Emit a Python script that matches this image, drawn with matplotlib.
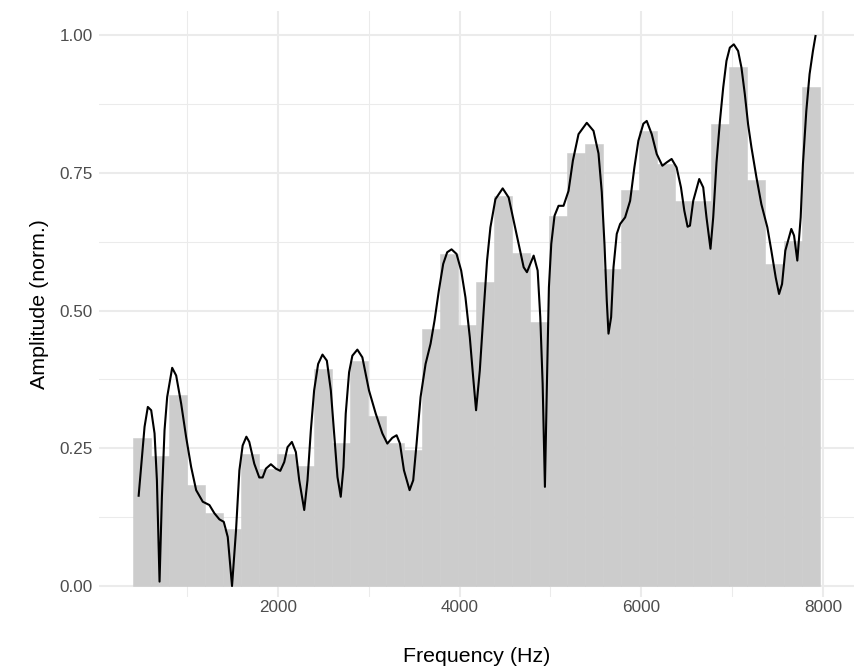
import numpy as np
import matplotlib
matplotlib.use("Agg")
import matplotlib.pyplot as plt
from matplotlib.ticker import FixedLocator, FuncFormatter

plt.rcParams['font.family'] = ['Liberation Sans', 'DejaVu Sans']

# ---- data ----
bin_start = 402.0
bin_width = 199.0
bar_amp = [0.269, 0.236, 0.346, 0.184, 0.132, 0.104, 0.239, 0.212, 0.240, 0.217,
           0.394, 0.260, 0.409, 0.308, 0.260, 0.246, 0.467, 0.603, 0.473, 0.551,
           0.707, 0.605, 0.479, 0.671, 0.786, 0.802, 0.576, 0.719, 0.826, 0.765,
           0.698, 0.698, 0.838, 0.941, 0.736, 0.585, 0.626, 0.906]
bar_freq = bin_start + bin_width * (np.arange(len(bar_amp)) + 0.5)

curve_freq = [465, 531, 567, 604, 641, 667, 696, 722, 751, 780, 835, 879, 934, 989,
              1044, 1099, 1172, 1245, 1300, 1355, 1403, 1447, 1494, 1538, 1575, 1611,
              1652, 1684, 1739, 1794, 1831, 1867, 1922, 1977, 2025, 2069, 2105, 2153,
              2197, 2234, 2289, 2325, 2362, 2398, 2442, 2490, 2538, 2582, 2618, 2655,
              2691, 2721, 2746, 2783, 2819, 2874, 2929, 3002, 3076, 3149, 3204, 3259,
              3306, 3343, 3387, 3449, 3489, 3526, 3570, 3625, 3680, 3724, 3771, 3819,
              3863, 3911, 3966, 4017, 4064, 4112, 4149, 4181, 4222, 4266, 4302, 4339,
              4394, 4474, 4540, 4595, 4650, 4705, 4741, 4815, 4859, 4888, 4914, 4939,
              4961, 4983, 5009, 5045, 5089, 5144, 5199, 5247, 5309, 5400, 5474, 5529,
              5565, 5595, 5620, 5639, 5668, 5694, 5730, 5767, 5822, 5877, 5924, 5968,
              6023, 6060, 6115, 6170, 6232, 6279, 6334, 6389, 6437, 6474, 6510, 6536,
              6572, 6638, 6682, 6718, 6762, 6792, 6828, 6866, 6902, 6938, 6975, 7019,
              7066, 7103, 7140, 7176, 7213, 7268, 7322, 7388, 7432, 7480, 7517, 7550,
              7586, 7652, 7682, 7718, 7755, 7780, 7817, 7853, 7890, 7920]
curve_amp = [0.162, 0.289, 0.325, 0.319, 0.277, 0.192, 0.008, 0.162, 0.283, 0.343, 0.396,
             0.382, 0.331, 0.270, 0.216, 0.174, 0.153, 0.147, 0.132, 0.121, 0.1165, 0.089,
             0.000, 0.101, 0.210, 0.255, 0.271, 0.2615, 0.222, 0.197, 0.197, 0.213, 0.221,
             0.213, 0.209, 0.225, 0.252, 0.2615, 0.243, 0.192, 0.138, 0.192, 0.283, 0.355,
             0.403, 0.420, 0.409, 0.355, 0.277, 0.198, 0.162, 0.216, 0.313, 0.388, 0.418,
             0.429, 0.415, 0.355, 0.313, 0.277, 0.2585, 0.269, 0.2736, 0.2585, 0.210, 0.174,
             0.192, 0.2585, 0.343, 0.403, 0.4397, 0.482, 0.536, 0.5845, 0.6057, 0.611,
             0.6026, 0.5725, 0.524, 0.4516, 0.379, 0.319, 0.391, 0.503, 0.5906, 0.651,
             0.702, 0.7216, 0.705, 0.663, 0.621, 0.5785, 0.5695, 0.5996, 0.5725, 0.488,
             0.367, 0.180, 0.367, 0.542, 0.621, 0.672, 0.690, 0.690, 0.717, 0.772, 0.820,
             0.8406, 0.826, 0.785, 0.715, 0.620, 0.518, 0.458, 0.488, 0.5785, 0.639, 0.657,
             0.669, 0.699, 0.7596, 0.808, 0.839, 0.844, 0.820, 0.784, 0.7627, 0.7687, 0.775,
             0.7596, 0.7234, 0.681, 0.652, 0.654, 0.699, 0.7386, 0.7234, 0.669, 0.612, 0.669,
             0.768, 0.844, 0.9046, 0.953, 0.977, 0.983, 0.971, 0.9408, 0.8926, 0.838, 0.796,
             0.7415, 0.693, 0.651, 0.6087, 0.560, 0.530, 0.548, 0.6087, 0.648, 0.636, 0.5906,
             0.669, 0.766, 0.862, 0.929, 0.971, 1.000]

x_major = [2000, 4000, 6000, 8000]
x_minor = [1000, 3000, 5000, 7000]
y_major = [0.00, 0.25, 0.50, 0.75, 1.00]
y_minor = [0.125, 0.375, 0.625, 0.875]

# ---- figure ----
W, H = 861, 670
fig = plt.figure(figsize=(W / 100, H / 100), dpi=100)
left_px, right_px, top_px, bottom_px = 98.5, 854, 11, 597
ax = fig.add_axes([left_px / W, 1 - bottom_px / H,
                   (right_px - left_px) / W, (bottom_px - top_px) / H])

ax.bar(bar_freq, bar_amp, width=bin_width, color='#CCCCCC', edgecolor='#CCCCCC',
       linewidth=0.4, zorder=2)
ax.plot(curve_freq, curve_amp, color='black', linewidth=1.5, zorder=3,
        solid_joinstyle='round', solid_capstyle='butt')

# limits with ggplot-like expansion
xmin, xmax = bar_freq[0] - bin_width / 2, bar_freq[-1] + bin_width / 2
ex = 0.05 * (xmax - xmin)
ax.set_xlim(xmin - ex, xmax + ex)
ax.set_ylim(-0.0199, 1.0435)

ax.xaxis.set_major_locator(FixedLocator(x_major))
ax.xaxis.set_minor_locator(FixedLocator(x_minor))
ax.yaxis.set_major_locator(FixedLocator(y_major))
ax.yaxis.set_minor_locator(FixedLocator(y_minor))
ax.yaxis.set_major_formatter(FuncFormatter(lambda v, p: f"{v:.2f}"))
ax.xaxis.set_major_formatter(FuncFormatter(lambda v, p: f"{int(v)}"))

ax.grid(which='major', color='#EBEBEB', linewidth=1.5, zorder=0)
ax.grid(which='minor', color='#EBEBEB', linewidth=0.75, zorder=0)
ax.set_axisbelow(True)
for s in ax.spines.values():
    s.set_visible(False)
ax.tick_params(which='both', length=0)
ax.tick_params(axis='x', labelsize=12.3, labelcolor='#4D4D4D', pad=2.5)
ax.tick_params(axis='y', labelsize=12.3, labelcolor='#4D4D4D', pad=4)

ax.set_xlabel('Frequency (Hz)', fontsize=15.4, color='black', labelpad=23)
ax.set_ylabel('Amplitude (norm.)', fontsize=15.4, color='black', labelpad=8)

fig.savefig('out.png', dpi=100, facecolor='white')
